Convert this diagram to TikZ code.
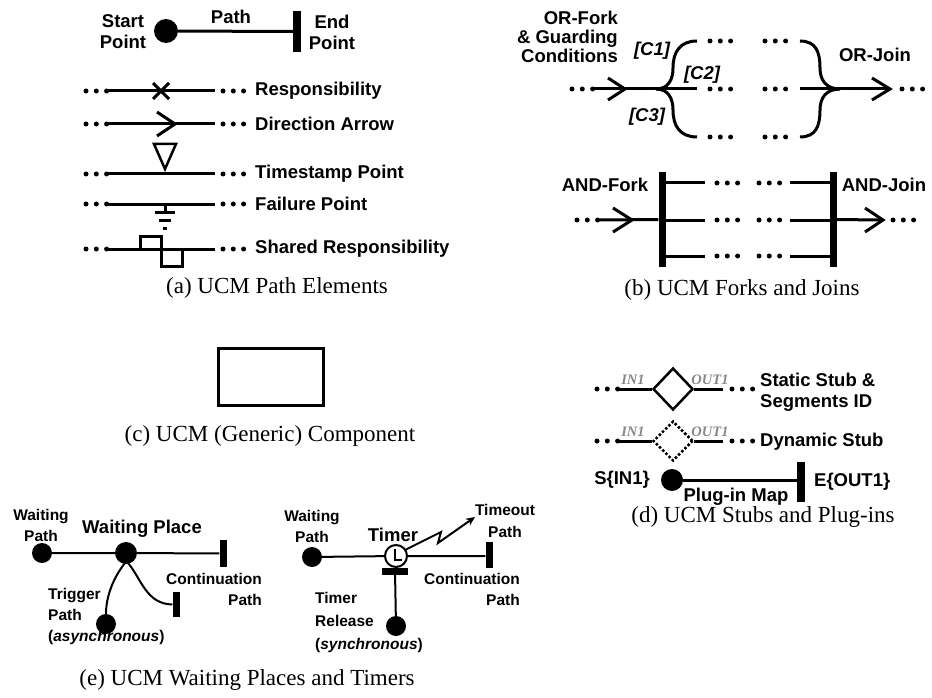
\documentclass[tikz,border=0pt]{standalone}
\usepackage{fontspec}
\setmainfont{Liberation Serif}
\setsansfont{Liberation Sans}
\usetikzlibrary{arrows.meta,shapes.geometric}
\definecolor{lblgray}{RGB}{135,135,135}
\begin{document}
\begin{tikzpicture}[x=1pt,y=-1pt,
  lbl/.style={font=\sffamily\bfseries\fontsize{18.5}{21}\selectfont, inner sep=0pt, align=center},
  slbl/.style={font=\sffamily\bfseries\fontsize{15.5}{21}\selectfont, inner sep=0pt, align=center},
  blbl/.style={font=\sffamily\bfseries\fontsize{18.5}{21}\selectfont, inner sep=0pt},
  captxt/.style={font=\fontsize{23}{26}\selectfont, inner sep=0pt},
  io/.style={font=\rmfamily\bfseries\itshape\fontsize{14.5}{16}\selectfont, text=lblgray, inner sep=0pt},
  pth/.style={line width=3pt},
  thinpath/.style={line width=2pt},
  startpt/.style={circle, fill, inner sep=0pt, minimum size=#1},
  endbar/.style={fill, inner sep=0pt, minimum width=#1},
  chev/.style={line width=3pt, line join=miter},
  tridots/.pic={\foreach \i in {0,10.3,20.6} \fill (\i,0) circle (2.5pt);}
]
\useasboundingbox (0,0) rectangle (932,698);

% ================= (a) =================
\node[startpt=24pt] (sp) at (166,31) {};
\node[endbar=8pt, minimum height=41pt] (ep) at (297,31.5) {};
\draw[pth] (sp) -- (ep);
\node[lbl] (tpath) at (231,17) {Path};
\node[lbl] (tstart) at (123,32) {Start\\Point};
\node[lbl] (tend) at (332,32) {End\\Point};

\foreach \yy/\nm/\txt in {91/r1/Responsibility,124/r2/Direction Arrow,174/r3/Timestamp Point,204/r4/Failure Point,249/r5/Shared Responsibility}{
  \pic at (86,\yy) {tridots};
  \coordinate (\nm a) at (107,\yy);
  \coordinate (\nm b) at (215,\yy);
  \draw[pth] (\nm a) -- (\nm b);
  \pic at (223,\yy) {tridots};
  \node[lbl, anchor=west] (\nm t) at (255,\yy) {\txt};
}
% responsibility X
\draw[pth] (153,83) -- (169,99) (153,99) -- (169,83);
% direction arrow
\draw[chev] (157,112) -- (175,124) -- (157,136);
% timestamp
\draw[line width=2.5pt, fill=white, line join=miter] (154,144) -- (176,144) -- (165,169) -- cycle;
% failure
\draw[pth] (165,204) -- (165,212);
\draw[pth] (155,212) -- (175,212) (159,220) -- (171,220) (163,228) -- (167,228);
% shared responsibility
\draw[pth] (140,249) -- (140,236) -- (161,236) -- (161,266) -- (182,266) -- (182,249);
\node[captxt] (capa) at (277,288) {(a) UCM Path Elements};

% ================= (b) =================
\pic at (572,89) {tridots};
\coordinate (orin) at (593,89);
\coordinate (orf) at (656,89);
\coordinate (c2e) at (697,89);
\draw[pth] (orin) -- (c2e);
\draw[chev] (608,78) -- (625,89) -- (608,100);
\draw[pth] (orf) .. controls (668,89) and (673,80) .. (673,68) .. controls (673,52) and (680,41) .. (697,41);
\draw[pth] (orf) .. controls (668,89) and (673,98) .. (673,110) .. controls (673,126) and (680,137) .. (697,137);
\foreach \yy in {41,89,137}{
  \pic at (710,\yy) {tridots};
  \pic at (765,\yy) {tridots};
}
\coordinate (orj) at (840,89);
\coordinate (c2s) at (800,89);
\coordinate (orout) at (890,89);
\draw[pth] (800,41) .. controls (816,41) and (820,52) .. (820,68) .. controls (820,80) and (826,89) .. (orj);
\draw[pth] (800,137) .. controls (816,137) and (820,126) .. (820,110) .. controls (820,98) and (826,89) .. (orj);
\draw[pth] (c2s) -- (orout);
\draw[chev] (872,78) -- (890,89) -- (872,100);
\pic at (902,89) {tridots};
\node[lbl, align=right, anchor=east, font=\sffamily\bfseries\fontsize{18.5}{19}\selectfont] (torf) at (618,37) {OR-Fork\\\& Guarding\\Conditions};
\node[lbl, font=\sffamily\bfseries\itshape\fontsize{18.5}{21}\selectfont] (tc1) at (652,51) {[C1]};
\node[lbl, font=\sffamily\bfseries\itshape\fontsize{18.5}{21}\selectfont] (tc2) at (702,75) {[C2]};
\node[lbl, font=\sffamily\bfseries\itshape\fontsize{18.5}{21}\selectfont] (tc3) at (647,117) {[C3]};
\node[lbl] (torj) at (875,55) {OR-Join};

% AND
\node[endbar=7pt, minimum height=95pt] (andf) at (662,219.5) {};
\node[endbar=7pt, minimum height=95pt] (andj) at (833,219.5) {};
\foreach \yy in {183,220,256}{
  \draw[pth] (662,\yy) -- (705,\yy);
  \pic at (717,\yy) {tridots};
  \pic at (759,\yy) {tridots};
  \draw[pth] (790,\yy) -- (833,\yy);
}
\pic at (577,220) {tridots};
\coordinate (andin) at (597,220);
\draw[pth] (andin) -- (andf);
\draw[chev] (613,208) -- (632,220) -- (613,232);
\coordinate (andout) at (883,220);
\draw[pth] (andj) -- (andout);
\draw[chev] (865,208) -- (883,220) -- (865,232);
\pic at (893,220) {tridots};
\node[lbl] (tandf) at (605,185) {AND-Fork};
\node[lbl] (tandj) at (884,185) {AND-Join};
\node[captxt] (capb) at (742,290) {(b) UCM Forks and Joins};

% ================= (c) =================
\node[draw, line width=3pt, minimum width=105pt, minimum height=57pt, inner sep=0pt] (comp) at (271,377) {};
\node[captxt] (capc) at (270,436) {(c) UCM (Generic) Component};

% ================= (d) =================
\node[draw, diamond, line width=2.5pt, minimum width=40pt, minimum height=42pt, inner sep=0pt] (sstub) at (673,389) {};
\pic at (597,389) {tridots};
\coordinate (s1a) at (617,389);
\coordinate (s1b) at (723,389);
\draw[pth] (s1a) -- (sstub.west) (sstub.east) -- (s1b);
\pic at (732,389) {tridots};
\node[io] (tin1) at (633,380) {IN1};
\node[io] (tout1) at (710,380) {OUT1};
\node[lbl, align=left, anchor=west] (tstatic) at (760,392) {Static Stub \&\\Segments ID};

\node[draw, diamond, line width=2.5pt, dotted, minimum width=40pt, minimum height=40pt, inner sep=0pt] (dstub) at (673,441) {};
\pic at (597,441) {tridots};
\coordinate (d1a) at (617,441);
\coordinate (d1b) at (723,441);
\draw[pth] (d1a) -- (dstub.west) (dstub.east) -- (d1b);
\pic at (732,441) {tridots};
\node[io] (tin2) at (633,432) {IN1};
\node[io] (tout2) at (710,432) {OUT1};
\node[lbl, anchor=west] (tdyn) at (760,442) {Dynamic Stub};

\node[startpt=22pt] (psp) at (672,480) {};
\node[endbar=8pt, minimum height=40pt] (pep) at (801,482) {};
\draw[pth] (psp) -- (pep.west |- psp);
\node[lbl, anchor=east] (tsin) at (650,480) {S\{IN1\}};
\node[lbl, anchor=west] (teout) at (814,482) {E\{OUT1\}};
\node[lbl] (tplug) at (736,497) {Plug-in Map};
\node[captxt] (capd) at (763,517) {(d) UCM Stubs and Plug-ins};

% ================= (e) =================
\node[startpt=20pt] (w1) at (42,553) {};
\node[startpt=22pt] (wp) at (126,553) {};
\node[endbar=7pt, minimum height=27pt] (we) at (223,553.5) {};
\node[startpt=20pt] (tr) at (106,624) {};
\node[endbar=7pt, minimum height=25pt] (ce) at (176,604.5) {};
\draw[thinpath] (w1) -- (wp) -- (we);
\draw[thinpath] (125,563) .. controls (113,578) and (106,597) .. (tr);
\draw[thinpath] (128,563) .. controls (141,578) and (146,604) .. (ce.west);
\node[slbl] (tw1) at (41,525) {Waiting\\Path};
\node[blbl] (twp) at (142,529) {Waiting Place};
\node[slbl, align=right, anchor=east] (tcont1) at (262,589) {Continuation\\Path};
\node[slbl, align=left, anchor=west] (ttrig) at (48,616) {Trigger\\Path\\(\textit{asynchronous})};

\node[startpt=20pt] (w2) at (312,557) {};
\node[circle, draw, fill=white, line width=2pt, minimum size=22pt, inner sep=0pt] (clk) at (396,556) {};
\node[endbar=7pt, minimum height=26pt] (te) at (489,555) {};
\draw[thinpath] (w2) -- (clk) -- (te.west |- clk);
\draw[line width=1.5pt] (395,549) -- (395,560) -- (402,560);
\node[fill, inner sep=0pt, minimum width=26pt, minimum height=7pt] (rel) at (395,571) {};
\node[startpt=20pt] (rs) at (396,626) {};
\draw[thinpath] (rel) -- (rs);
\coordinate (to1) at (405,550);
\coordinate (toend) at (475,517);
\draw[thinpath, -{Stealth[length=9pt,width=8pt]}] (to1) -- (441,532) -- (438,543) -- (toend);
\node[slbl] (tw2) at (312,526) {Waiting\\Path};
\node[blbl] (ttimer) at (393,535) {Timer};
\node[slbl, font=\sffamily\bfseries\fontsize{15.5}{22}\selectfont] (tto) at (505,521) {Timeout\\Path};
\node[slbl, align=right, anchor=east] (tcont2) at (520,589) {Continuation\\Path};
\node[slbl, align=left, anchor=west, font=\sffamily\bfseries\fontsize{15.5}{23}\selectfont] (trel) at (315,622) {Timer\\Release\\(\textit{synchronous})};
\node[captxt] (cape) at (247,680) {(e) UCM Waiting Places and Timers};
\end{tikzpicture}
\end{document}
